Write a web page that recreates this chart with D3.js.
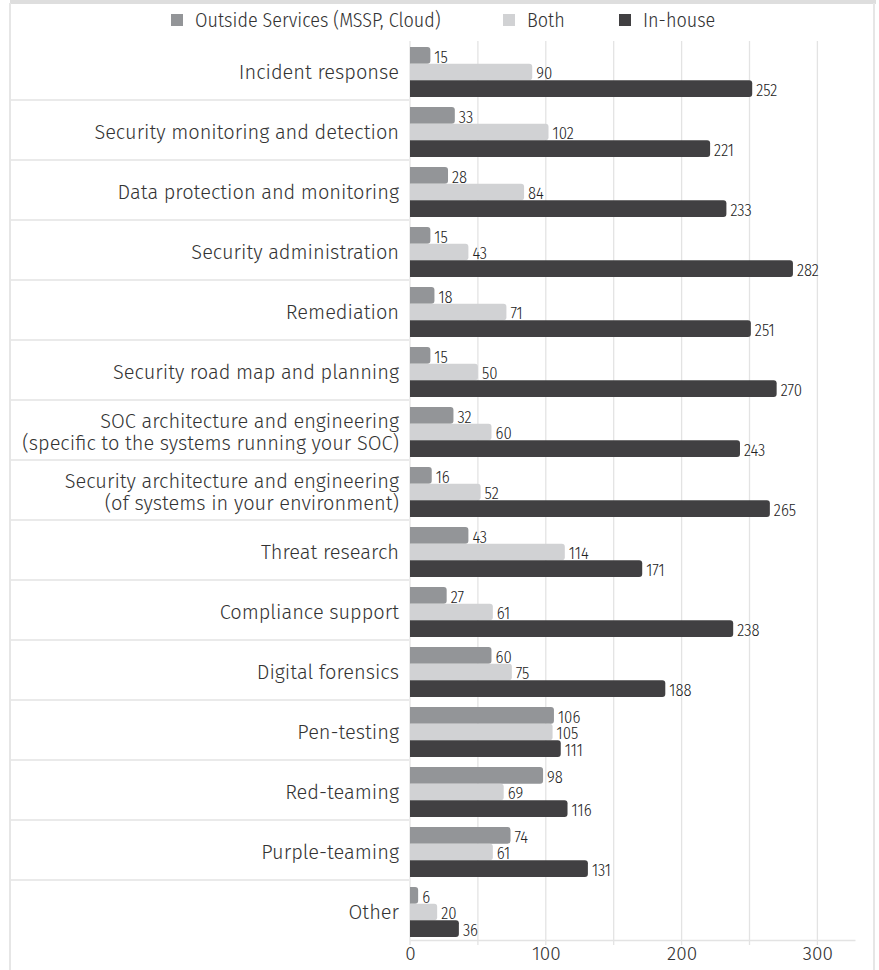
<!DOCTYPE html>
<html><head><meta charset="utf-8">
<script src="https://cdn.jsdelivr.net/npm/d3@7"></script>
<style>
html,body{margin:0;padding:0;background:#fff;}
svg{display:block;}
</style></head>
<body>
<svg id="chart" width="879" height="970"></svg>
<script>
const categories = [
  ["Incident response"],
  ["Security monitoring and detection"],
  ["Data protection and monitoring"],
  ["Security administration"],
  ["Remediation"],
  ["Security road map and planning"],
  ["SOC architecture and engineering", "(specific to the systems running your SOC)"],
  ["Security architecture and engineering", "(of systems in your environment)"],
  ["Threat research"],
  ["Compliance support"],
  ["Digital forensics"],
  ["Pen-testing"],
  ["Red-teaming"],
  ["Purple-teaming"],
  ["Other"]
];
const seriesNames = ["Outside Services (MSSP, Cloud)", "Both", "In-house"];
const outsideValues = [15, 33, 28, 15, 18, 15, 32, 16, 43, 27, 60, 106, 98, 74, 6];
const bothValues    = [90, 102, 84, 43, 71, 50, 60, 52, 114, 61, 75, 105, 69, 61, 20];
const inhouseValues = [252, 221, 233, 282, 251, 270, 243, 265, 171, 238, 188, 111, 116, 131, 36];
const tickLabels = [0, 100, 200, 300];
const gridValues = [0, 50, 100, 150, 200, 250, 300];
const colors = ["#939598", "#d1d2d4", "#414042"];

const series = [outsideValues, bothValues, inhouseValues];
const svg = d3.select("#chart");
const labelFont = "'Fira Sans','Noto Sans',sans-serif";
const condFont = "'Fira Sans Condensed','Fira Sans',sans-serif";

// frame
svg.append("rect").attr("x", 10).attr("y", 0).attr("width", 866).attr("height", 4).attr("fill", "#dedede");
svg.append("rect").attr("x", 9).attr("y", 3).attr("width", 2).attr("height", 967).attr("fill", "#e6e6e6");
svg.append("rect").attr("x", 873).attr("y", 3).attr("width", 2).attr("height", 967).attr("fill", "#e6e6e6");

const x = d3.scaleLinear().domain([0, 327.7]).range([410, 855]);
const idx = d3.range(categories.length);
const y = d3.scaleBand().domain(idx).range([40, 940]).paddingInner(0).paddingOuter(0);
const sub = d3.scaleBand().domain([0, 1, 2]).range([7, 57]).paddingInner(0).paddingOuter(0);

// vertical gridlines
svg.append("g").selectAll("line").data(gridValues).join("line")
  .attr("x1", d => x(d)).attr("x2", d => x(d))
  .attr("y1", 41).attr("y2", 945)
  .attr("stroke", "#e3e3e3").attr("stroke-width", 1.3);

// horizontal separators in label area
svg.append("g").selectAll("line").data(idx.slice(1)).join("line")
  .attr("x1", 11).attr("x2", 409)
  .attr("y1", d => y(d)).attr("y2", d => y(d))
  .attr("stroke", "#e3e3e3").attr("stroke-width", 1.5);

// axis
const axis = d3.axisBottom(x).tickValues(tickLabels).tickSize(0).tickPadding(7).tickFormat(d3.format("d"));
const ag = svg.append("g").attr("transform", "translate(0,940)").call(axis);
ag.select(".domain").attr("stroke", "#e3e3e3").attr("stroke-width", 1.5);
ag.selectAll("text").attr("font-family", labelFont).attr("font-weight", 300).attr("font-size", 19).attr("fill", "#333");

// bars
function barPath(x0, y0, w, h, r) {
  r = Math.min(r, w, h / 2);
  return `M${x0},${y0}H${x0 + w - r}Q${x0 + w},${y0} ${x0 + w},${y0 + r}V${y0 + h - r}Q${x0 + w},${y0 + h} ${x0 + w - r},${y0 + h}H${x0}Z`;
}
series.forEach((vals, s) => {
  const g = svg.append("g");
  g.selectAll("path").data(vals).join("path")
    .attr("d", (v, i) => barPath(x(0), y(i) + sub(s), x(v) - x(0), sub.bandwidth(), 3))
    .attr("fill", colors[s]);
  g.selectAll("text").data(vals).join("text")
    .attr("x", v => x(v) + 4)
    .attr("y", (v, i) => y(i) + sub(s) + sub.bandwidth() - 1)
    .attr("font-family", condFont).attr("font-weight", 300).attr("font-size", 16.5).attr("fill", "#222")
    .text(v => v);
});

// category labels
const lg = svg.append("g");
categories.forEach((lines, i) => {
  const cy = y(i) + y.bandwidth() / 2 + 2;
  const n = lines.length;
  lines.forEach((t, k) => {
    lg.append("text")
      .attr("x", 399)
      .attr("y", cy + (k - (n - 1) / 2) * 22)
      .attr("dominant-baseline", "central")
      .attr("text-anchor", "end")
      .attr("font-family", labelFont).attr("font-weight", 300).attr("font-size", 20).attr("fill", "#333")
      .text(t);
  });
});

// legend
const legendX = [171, 503, 619];
const leg = svg.append("g");
seriesNames.forEach((name, s) => {
  leg.append("rect").attr("x", legendX[s]).attr("y", 14).attr("width", 12).attr("height", 12).attr("fill", colors[s]);
  leg.append("text").attr("x", legendX[s] + 24).attr("y", 20)
    .attr("dominant-baseline", "central")
    .attr("font-family", condFont).attr("font-weight", 300).attr("font-size", 20).attr("fill", "#333")
    .text(name);
});
</script>
</body></html>
